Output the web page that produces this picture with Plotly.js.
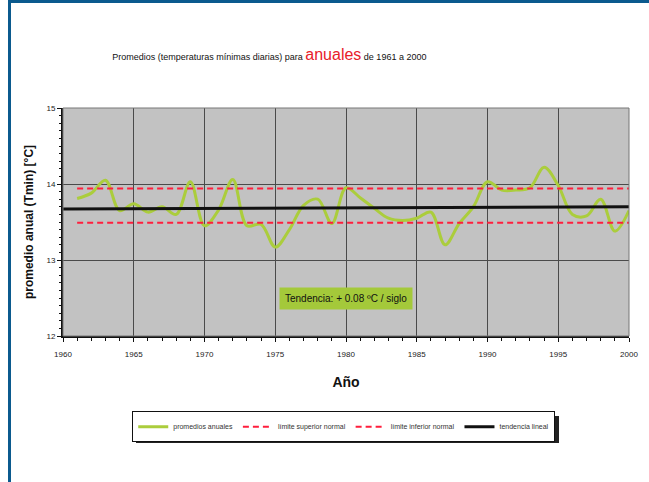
<!DOCTYPE html>
<html>
<head>
<meta charset="utf-8">
<script src="https://cdn.plot.ly/plotly-3.0.1.min.js"></script>
<style>
  html, body { margin:0; padding:0; background:#fff; }
  #wrap { position:relative; width:649px; height:482px; overflow:hidden; }
  #chart { width:649px; height:482px; }
  .bl { position:absolute; left:8px; top:0; width:3px; height:482px; background:#0b5a8e; }
  .bt { position:absolute; left:8px; top:0; width:641px; height:3px; background:#0b5a8e; }
</style>
</head>
<body>
<div id="wrap">
  <div id="chart"></div>
  <div class="bl"></div>
  <div class="bt"></div>
</div>
<script>
// ---- data ----
const years = [1961,1962,1963,1964,1965,1966,1967,1968,1969,1970,
               1971,1972,1973,1974,1975,1976,1977,1978,1979,1980,
               1981,1982,1983,1984,1985,1986,1987,1988,1989,1990,
               1991,1992,1993,1994,1995,1996,1997,1998,1999,2000];
const annualMeans = [13.81,13.88,14.05,13.65,13.74,13.63,13.70,13.60,14.03,13.45,
                     13.66,14.06,13.45,13.47,13.17,13.40,13.72,13.80,13.48,13.95,
                     13.82,13.68,13.55,13.52,13.55,13.63,13.20,13.48,13.70,14.03,
                     13.92,13.92,13.95,14.22,13.98,13.60,13.58,13.80,13.38,13.65];
const limitYears = [1961, 2000];
const upperLimit = [13.94, 13.94];
const lowerLimit = [13.49, 13.49];
const trendYears = [1960, 2000];
const trendValues = [13.67, 13.70];
const seriesNames = ["promedios anuales","límite superior normal","límite inferior normal","tendencia lineal"];
const xTicks = [1960,1965,1970,1975,1980,1985,1990,1995,2000];
const yTicks = [12,13,14,15];
const trendLabel = "Tendencia: + 0.08 ºC / siglo";

const F = "'Liberation Sans Narrow', 'Liberation Sans', Arial, sans-serif";

const traces = [
  {x: years, y: annualMeans, name: seriesNames[0], mode: 'lines',
   line: {color: '#abcd3c', width: 3, shape: 'spline', smoothing: 1}},
  {x: limitYears, y: upperLimit, name: seriesNames[1], mode: 'lines',
   line: {color: '#ff1e3c', width: 2, dash: '6px,4px'}},
  {x: limitYears, y: lowerLimit, name: seriesNames[2], mode: 'lines',
   line: {color: '#ff1e3c', width: 2, dash: '6px,4px'}},
  {x: trendYears, y: trendValues, name: seriesNames[3], mode: 'lines',
   line: {color: '#111', width: 3}}
];

const layout = {
  width: 649, height: 482,
  paper_bgcolor: '#ffffff',
  plot_bgcolor: '#c2c2c2',
  margin: {l: 63, r: 20, t: 108, b: 146},
  showlegend: true,
  title: {
    text: "Promedios (temperaturas mínimas diarias) para <span style='color:#e8202a;font-size:16px'>anuales</span> de 1961 a 2000",
    font: {family: F, size: 9, color: '#111'},
    x: 0.415, xanchor: 'center', xref: 'container',
    y: 1 - 57/482, yanchor: 'middle', yref: 'container'
  },
  xaxis: {
    range: [1960, 2000],
    tickvals: xTicks, ticktext: xTicks.map(String),
    tickfont: {family: F, size: 8, color: '#222'},
    ticklabelstandoff: 5,
    showgrid: true, gridcolor: '#4a4a4a', gridwidth: 1,
    zeroline: false,
    showline: true, linecolor: '#111', linewidth: 2, mirror: false,
    ticks: 'outside', ticklen: 4, tickcolor: '#111',
    minor: {dtick: 1, ticks: 'outside', ticklen: 3, tickcolor: '#111', showgrid: false},
    title: {text: 'Año', font: {family: F, size: 14, color: '#111', weight: 'bold'}, standoff: 20}
  },
  yaxis: {
    range: [12, 15],
    tickvals: yTicks, ticktext: yTicks.map(String),
    tickfont: {family: F, size: 8, color: '#222'},
    showgrid: true, gridcolor: '#4a4a4a', gridwidth: 1,
    zeroline: false,
    showline: true, linecolor: '#111', linewidth: 2,
    ticks: 'outside', ticklen: 4, tickcolor: '#111',
    minor: {dtick: 0.1, ticks: 'outside', ticklen: 2, tickcolor: '#111', showgrid: false},
    title: {text: 'promedio anual (Tmin) [°C]', font: {family: F, size: 12, color: '#111', weight: 'bold'}, standoff: 10}
  },
  legend: {
    orientation: 'h', x: 0.496, xanchor: 'center', y: -0.33, yanchor: 'top',
    bgcolor: '#ffffff', bordercolor: '#111', borderwidth: 1,
    font: {family: F, size: 7, color: '#333'},
    itemwidth: 30
  },
  annotations: [{
    x: 1980, y: 12.5, xref: 'x', yref: 'y',
    text: trendLabel, showarrow: false,
    font: {family: F, size: 10, color: '#111'},
    bgcolor: '#a4c93a', borderpad: 5
  }],
  shapes: [{
    type: 'rect', xref: 'paper', yref: 'paper', x0: 0, x1: 1, y0: 0, y1: 1,
    line: {color: '#777', width: 1}, layer: 'above'
  }, {
    type: 'rect', xref: 'paper', yref: 'paper',
    x0: (136-63)/566, x1: (559-63)/566, y0: (336-443)/228, y1: (336-416)/228,
    line: {width: 0}, fillcolor: '#222', layer: 'below'
  }]
};

Plotly.newPlot('chart', traces, layout, {displayModeBar: false, staticPlot: true});
</script>
</body>
</html>
